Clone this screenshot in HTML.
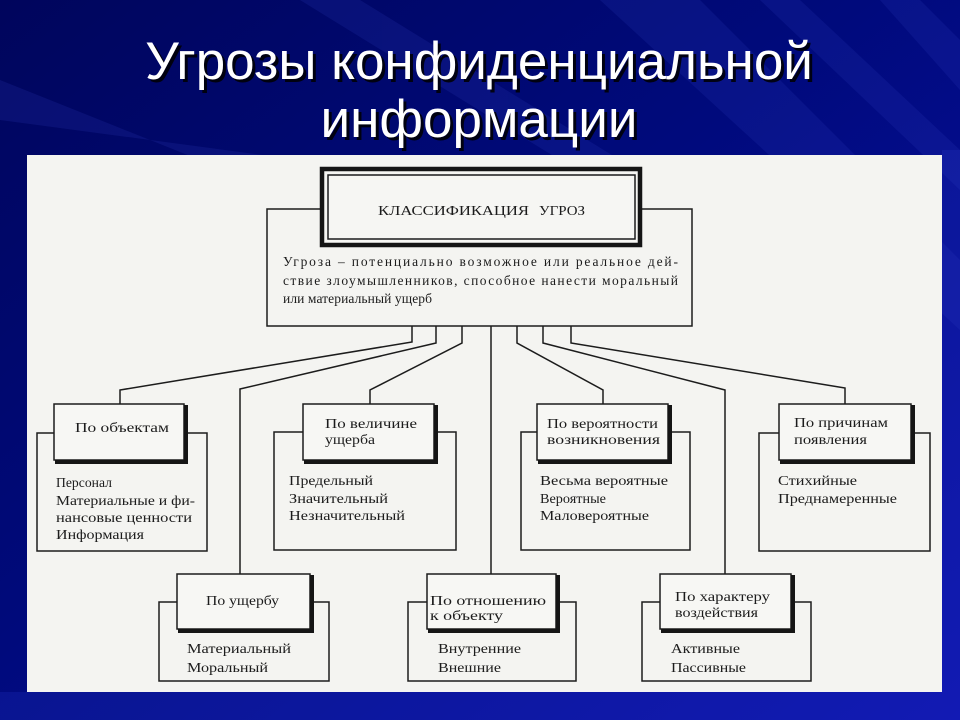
<!DOCTYPE html>
<html><head><meta charset="utf-8"><style>
html,body{margin:0;padding:0;width:960px;height:720px;overflow:hidden;background:#000a78;}
svg{display:block}
.t{font-family:"Liberation Serif","Noto Serif CJK SC",serif;fill:#1c1c1c;font-size:13.5px;}
.h{font-family:"Liberation Serif","Noto Serif CJK SC",serif;fill:#1c1c1c;font-size:14px;}
</style></head><body>
<svg width="960" height="720" viewBox="0 0 960 720" xmlns="http://www.w3.org/2000/svg">
<defs>
<linearGradient id="bg" x1="0" y1="0" x2="1" y2="1">
<stop offset="0" stop-color="#00055c"/>
<stop offset="0.45" stop-color="#000a7c"/>
<stop offset="1" stop-color="#0c12ac"/>
</linearGradient>
</defs>
<rect x="0" y="0" width="960" height="720" fill="url(#bg)"/>
<g fill="#3040c0" opacity="0.18">
<polygon points="600,0 700,0 960,260 960,330"/>
<polygon points="760,0 800,0 960,150 960,190"/>
<polygon points="300,0 360,0 620,160 560,160"/>
<polygon points="0,80 0,120 300,160 200,160"/>
<polygon points="880,0 920,0 960,40 960,90"/>
</g>
<g fill="#2a3ad0" opacity="0.22">
<polygon points="0,692 960,692 960,720 0,720"/>
<polygon points="942,150 960,150 960,692 942,692"/>
</g>
<g font-family="'Liberation Sans','Noto Sans CJK SC',sans-serif" font-size="53" text-anchor="middle">
<text x="482" y="82" fill="#000" opacity="0.85">Угрозы конфиденциальной</text>
<text x="482" y="140" fill="#000" opacity="0.85">информации</text>
<text x="479" y="79" fill="#fff">Угрозы конфиденциальной</text>
<text x="479" y="137" fill="#fff">информации</text>
</g>
<rect x="27" y="155" width="915" height="537" fill="#f4f4f1"/>

<g stroke="#1c1c1c" fill="none" stroke-width="1.5">
<polyline points="412,326 412,342 120,390 120,404"/>
<polyline points="436,326 436,343 240,389 240,574"/>
<polyline points="462,326 462,343 370,390 370,404"/>
<polyline points="491,326 491,574"/>
<polyline points="517,326 517,343 603,390 603,404"/>
<polyline points="543,326 543,343 725,390 725,574"/>
<polyline points="571,326 571,343 845,388 845,404"/>
<rect x="267" y="209" width="425" height="117" fill="#f4f4f1"/>
<rect x="37" y="433" width="170" height="118" fill="#f4f4f1"/>
<rect x="274" y="432" width="182" height="118" fill="#f4f4f1"/>
<rect x="521" y="432" width="169" height="118" fill="#f4f4f1"/>
<rect x="759" y="433" width="171" height="118" fill="#f4f4f1"/>
<rect x="159" y="602" width="170" height="79" fill="#f4f4f1"/>
<rect x="408" y="602" width="168" height="79" fill="#f4f4f1"/>
<rect x="642" y="602" width="169" height="79" fill="#f4f4f1"/>
</g>

<rect x="322" y="169" width="318" height="76" fill="#f6f6f3" stroke="#151515" stroke-width="4.5"/>
<rect x="328" y="175" width="307" height="64" fill="none" stroke="#1c1c1c" stroke-width="1.5"/>

<g>
<g stroke="#1c1c1c" stroke-width="1.5" fill="#f7f7f4">
<rect x="54" y="404" width="130" height="56"/>
<rect x="303" y="404" width="131" height="56"/>
<rect x="537" y="404" width="131" height="56"/>
<rect x="779" y="404" width="132" height="56"/>
<rect x="177" y="574" width="133" height="55"/>
<rect x="427" y="574" width="129" height="55"/>
<rect x="660" y="574" width="131" height="55"/>
</g>
<g fill="#151515">
<rect x="184" y="405" width="4" height="59"/><rect x="55" y="460" width="133" height="4"/>
<rect x="434" y="405" width="4" height="59"/><rect x="304" y="460" width="134" height="4"/>
<rect x="668" y="405" width="4" height="59"/><rect x="538" y="460" width="134" height="4"/>
<rect x="911" y="405" width="4" height="59"/><rect x="780" y="460" width="135" height="4"/>
<rect x="310" y="575" width="4" height="58"/><rect x="178" y="629" width="136" height="4"/>
<rect x="556" y="575" width="4" height="58"/><rect x="428" y="629" width="132" height="4"/>
<rect x="791" y="575" width="4" height="58"/><rect x="661" y="629" width="134" height="4"/>
</g>
</g>

<text class="h" x="378" y="215" font-size="16" textLength="151" lengthAdjust="spacingAndGlyphs">КЛАССИФИКАЦИЯ</text>
<text class="h" x="539" y="215" font-size="16" textLength="46" lengthAdjust="spacingAndGlyphs">УГРОЗ</text>
<text class="t" x="283" y="266" font-size="13" textLength="395" lengthAdjust="spacing">Угроза – потенциально возможное или реальное дей-</text>
<text class="t" x="283" y="285" font-size="13" textLength="395" lengthAdjust="spacing">ствие злоумышленников, способное нанести моральный</text>
<text class="t" x="283" y="303" font-size="13" textLength="149" lengthAdjust="spacing">или материальный ущерб</text>

<text class="h" x="75" y="432" textLength="94" lengthAdjust="spacingAndGlyphs">По объектам</text>
<text class="t" x="56" y="487" textLength="56" lengthAdjust="spacingAndGlyphs">Персонал</text>
<text class="t" x="56" y="505" textLength="139" lengthAdjust="spacingAndGlyphs">Материальные и фи-</text>
<text class="t" x="56" y="522" textLength="136" lengthAdjust="spacingAndGlyphs">нансовые ценности</text>
<text class="t" x="56" y="539" textLength="88" lengthAdjust="spacingAndGlyphs">Информация</text>

<text class="h" x="325" y="428" textLength="92" lengthAdjust="spacingAndGlyphs">По величине</text>
<text class="h" x="325" y="444" textLength="50" lengthAdjust="spacingAndGlyphs">ущерба</text>
<text class="t" x="289" y="485" textLength="84" lengthAdjust="spacingAndGlyphs">Предельный</text>
<text class="t" x="289" y="503" textLength="99" lengthAdjust="spacingAndGlyphs">Значительный</text>
<text class="t" x="289" y="520" textLength="116" lengthAdjust="spacingAndGlyphs">Незначительный</text>

<text class="h" x="547" y="428" textLength="111" lengthAdjust="spacingAndGlyphs">По вероятности</text>
<text class="h" x="547" y="444" textLength="113" lengthAdjust="spacingAndGlyphs">возникновения</text>
<text class="t" x="540" y="485" textLength="128" lengthAdjust="spacingAndGlyphs">Весьма вероятные</text>
<text class="t" x="540" y="503" textLength="66" lengthAdjust="spacingAndGlyphs">Вероятные</text>
<text class="t" x="540" y="520" textLength="109" lengthAdjust="spacingAndGlyphs">Маловероятные</text>

<text class="h" x="794" y="427" textLength="94" lengthAdjust="spacingAndGlyphs">По причинам</text>
<text class="h" x="794" y="444" textLength="73" lengthAdjust="spacingAndGlyphs">появления</text>
<text class="t" x="778" y="485" textLength="79" lengthAdjust="spacingAndGlyphs">Стихийные</text>
<text class="t" x="778" y="503" textLength="119" lengthAdjust="spacingAndGlyphs">Преднамеренные</text>

<text class="h" x="206" y="605" textLength="73" lengthAdjust="spacingAndGlyphs">По ущербу</text>
<text class="t" x="187" y="653" textLength="104" lengthAdjust="spacingAndGlyphs">Материальный</text>
<text class="t" x="187" y="672" textLength="81" lengthAdjust="spacingAndGlyphs">Моральный</text>

<text class="h" x="430" y="605" textLength="116" lengthAdjust="spacingAndGlyphs">По отношению</text>
<text class="h" x="430" y="620" textLength="73" lengthAdjust="spacingAndGlyphs">к объекту</text>
<text class="t" x="438" y="653" textLength="83" lengthAdjust="spacingAndGlyphs">Внутренние</text>
<text class="t" x="438" y="672" textLength="63" lengthAdjust="spacingAndGlyphs">Внешние</text>

<text class="h" x="675" y="601" textLength="95" lengthAdjust="spacingAndGlyphs">По характеру</text>
<text class="h" x="675" y="617" textLength="83" lengthAdjust="spacingAndGlyphs">воздействия</text>
<text class="t" x="671" y="653" textLength="69" lengthAdjust="spacingAndGlyphs">Активные</text>
<text class="t" x="671" y="672" textLength="75" lengthAdjust="spacingAndGlyphs">Пассивные</text>
</svg>
</body></html>
